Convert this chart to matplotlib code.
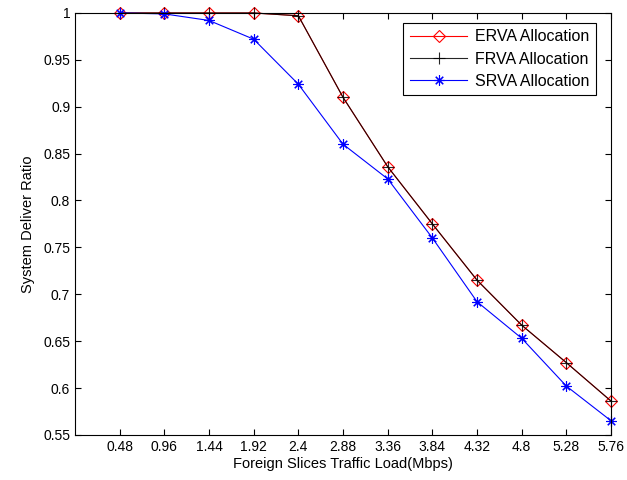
import numpy as np
import matplotlib.pyplot as plt

plt.rcParams['font.family'] = ['Liberation Sans', 'DejaVu Sans']

load = [0.48, 0.96, 1.44, 1.92, 2.4, 2.88, 3.36, 3.84, 4.32, 4.8, 5.28, 5.76]
erva = [1.0, 1.0, 1.0, 1.0, 0.997, 0.910, 0.836, 0.775, 0.715, 0.667, 0.627, 0.586]
frva = [1.0, 1.0, 1.0, 1.0, 0.997, 0.910, 0.836, 0.775, 0.715, 0.667, 0.627, 0.586]
srva = [1.0, 0.999, 0.992, 0.972, 0.924, 0.860, 0.823, 0.760, 0.692, 0.653, 0.602, 0.565]
tick_labels = ['0.48', '0.96', '1.44', '1.92', '2.4', '2.88', '3.36', '3.84', '4.32', '4.8', '5.28', '5.76']

fig = plt.figure(figsize=(6.27, 4.8), dpi=100)
ax = fig.add_axes([0.1196, 0.094, 0.855, 0.879])

ax.plot(load, erva, color='red', lw=0.8, marker='D', ms=6.5, mfc='none', mec='red',
        mew=0.8, label='ERVA Allocation', clip_on=False)
ax.plot(load, frva, color='black', lw=0.8, marker='+', ms=8, mew=0.8,
        label='FRVA Allocation', alpha=0.85, clip_on=False)
ax.plot(load, srva, color='blue', lw=0.8, marker=(8, 2, 0), ms=7.5, mew=0.8,
        label='SRVA Allocation', clip_on=False)

ax.set_xlim(0, 5.76)
ax.set_ylim(0.55, 1.0)
ax.set_xticks(load)
ax.set_xticklabels(tick_labels)
ax.set_yticks(np.arange(0.55, 1.001, 0.05))
ax.set_yticklabels(['0.55', '0.6', '0.65', '0.7', '0.75', '0.8', '0.85', '0.9', '0.95', '1'])
ax.tick_params(direction='in', top=True, right=True, labelsize=10, length=4, width=0.8)
for s in ax.spines.values():
    s.set_linewidth(0.8)

ax.set_xlabel('Foreign Slices Traffic Load(Mbps)', fontsize=10.5, labelpad=2)
ax.set_ylabel('System Deliver Ratio', fontsize=10.5, labelpad=6)

# legend box placed where the original sits
leg = ax.legend(loc='upper right', bbox_to_anchor=(596 / 627, 1 - 23 / 480),
                bbox_transform=fig.transFigure, borderaxespad=0,
                fontsize=11.5, fancybox=False, framealpha=1,
                edgecolor='black', handlelength=3.6,
                borderpad=0.4, labelspacing=0.45, handletextpad=0.5)
leg.get_frame().set_linewidth(0.8)

fig.savefig('out.png', dpi=100)
